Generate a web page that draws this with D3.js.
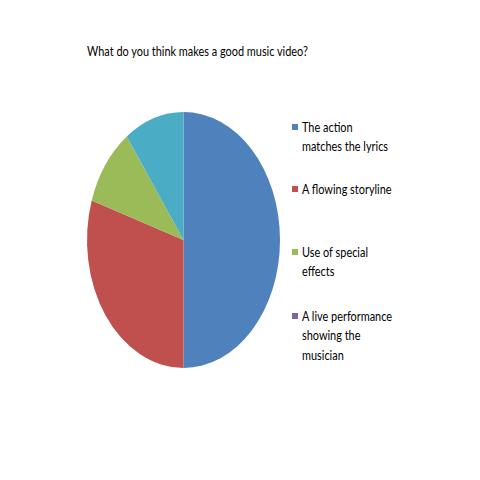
<!DOCTYPE html>
<html><head><meta charset="utf-8">
<script src="https://cdn.jsdelivr.net/npm/d3@7"></script>
<style>body{margin:0;background:#fff}</style>
</head><body>
<script>
const title = "What do you think makes a good music video?";
const categories = ["The action matches the lyrics", "A flowing storyline", "Use of special effects", "A live performance showing the musician"];
const legendLines = [["The action", "matches the lyrics"], ["A flowing storyline"], ["Use of special", "effects"], ["A live performance", "showing the", "musician"]];
const values = [50, 30, 10, 0];
const sliceCats = ["The action matches the lyrics", "A flowing storyline", "Use of special effects", "Cyan slice", "A live performance showing the musician"];
const sliceValues = [50, 30, 10, 10, 0];
const colors = ["#4F81BD", "#C0504D", "#9BBB59", "#4BACC6", "#8064A2"];
const legendColors = ["#4F81BD", "#C0504D", "#9BBB59", "#8064A2"];

const W = 480, H = 480;
const svg = d3.select("body").append("svg").attr("width", W).attr("height", H);
svg.append("rect").attr("width", W).attr("height", H).attr("fill", "#fff");

const font = "Lato, 'Open Sans', sans-serif";
const sx = 0.84;
svg.append("g").attr("transform", `translate(87,56) scale(${sx},1)`)
  .append("text").attr("x", 0).attr("y", 0).attr("font-family", font)
  .attr("font-size", 13).attr("fill", "#000").text(title);

const cx = 183.5, cy = 240, rx = 96.5, ry = 128;
const pie = d3.pie().sort(null).value(d => d);
const arc = d3.arc().innerRadius(0).outerRadius(100);
const g = svg.append("g").attr("transform", `translate(${cx},${cy}) scale(${rx/100},${ry/100})`);
g.selectAll("path").data(pie(sliceValues)).join("path")
  .attr("d", arc).attr("fill", (d, i) => colors[i]);

const legendY = [127, 189, 252, 316];
const lineH = 19.5;
const lg = svg.append("g");
legendLines.forEach((lines, i) => {
  lg.append("rect").attr("x", 292).attr("y", legendY[i] - 3).attr("width", 6).attr("height", 6).attr("fill", legendColors[i]);
  const tg = lg.append("g").attr("transform", `translate(302,${legendY[i]}) scale(${sx},1)`);
  lines.forEach((t, j) => {
    tg.append("text").attr("x", 0).attr("y", j * lineH).attr("dy", "0.35em")
      .attr("font-family", font).attr("font-size", 13).attr("fill", "#000").text(t);
  });
});
</script>
</body></html>
